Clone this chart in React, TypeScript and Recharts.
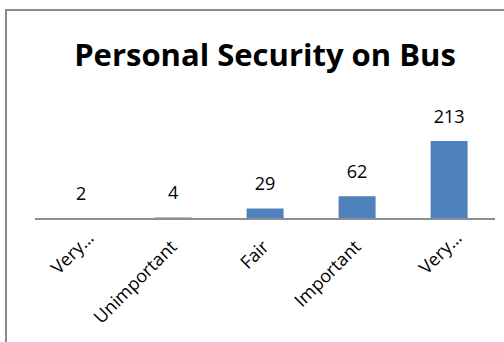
import { BarChart, Bar, XAxis, YAxis, LabelList } from 'recharts';

// Responses to "Personal Security on Bus" (labels truncated as in the source)
const categories = ['Very…', 'Unimportant', 'Fair', 'Important', 'Very…'];
const counts = [2, 4, 29, 62, 213];
const valueDomain = [0, 250];

const FONT = '"Open Sans", "DejaVu Sans", sans-serif';
const BAR_BLUE = '#4f81bd';
const AXIS_GRAY = '#8e8e8e';

const data = categories.map((name, i) => ({ name, value: counts[i] }));

function AngledTick(props: any) {
  const { x, y, payload } = props;
  // truncated labels sit a little higher, like the spreadsheet renders them
  const truncated = String(payload.value).endsWith('…');
  const ax = x + (truncated ? 14 : 5);
  const ay = y + (truncated ? 20 : 29);
  return (
    <text
      x={ax}
      y={ay}
      transform={`rotate(-45, ${ax}, ${ay})`}
      textAnchor="end"
      fontSize={18}
      fontFamily={FONT}
      fill="#000"
    >
      {payload.value}
    </text>
  );
}

function ValueLabel(props: any) {
  const { x, y, width, value } = props;
  return (
    <text
      x={x + width / 2}
      y={y - 18.5}
      textAnchor="middle"
      fontSize={18}
      fontFamily={FONT}
      fill="#000"
    >
      {value}
    </text>
  );
}

export default function App() {
  return (
    <div
      style={{
        position: 'fixed',
        left: 0,
        top: 0,
        width: 504,
        height: 342,
        overflow: 'hidden',
        background: '#fff',
      }}
    >
      <svg
        width={504}
        height={342}
        style={{ position: 'absolute', left: 0, top: 0 }}
      >
        {/* chart frame, only the top and left edges are in view */}
        <path d="M6 342 V10 H504" fill="none" stroke="#8a8a8a" strokeWidth={2} />
        <text
          x={265}
          y={66}
          textAnchor="middle"
          fontSize={31}
          fontWeight="bold"
          fontFamily={FONT}
          fill="#000"
        >
          Personal Security on Bus
        </text>
      </svg>
      <div style={{ position: 'absolute', left: 0, top: 0 }}>
        <BarChart
          width={504}
          height={342}
          data={data}
          margin={{ top: 127.5, right: 9, bottom: 0, left: 35 }}
          barCategoryGap="30%"
        >
          <YAxis hide domain={valueDomain} />
          <XAxis
            dataKey="name"
            height={123}
            interval={0}
            tickLine={false}
            tickSize={0}
            tickMargin={0}
            axisLine={{ stroke: AXIS_GRAY, strokeWidth: 2 }}
            tick={<AngledTick />}
          />
          <Bar dataKey="value" fill={BAR_BLUE} isAnimationActive={false}>
            <LabelList dataKey="value" content={<ValueLabel />} />
          </Bar>
        </BarChart>
      </div>
    </div>
  );
}
